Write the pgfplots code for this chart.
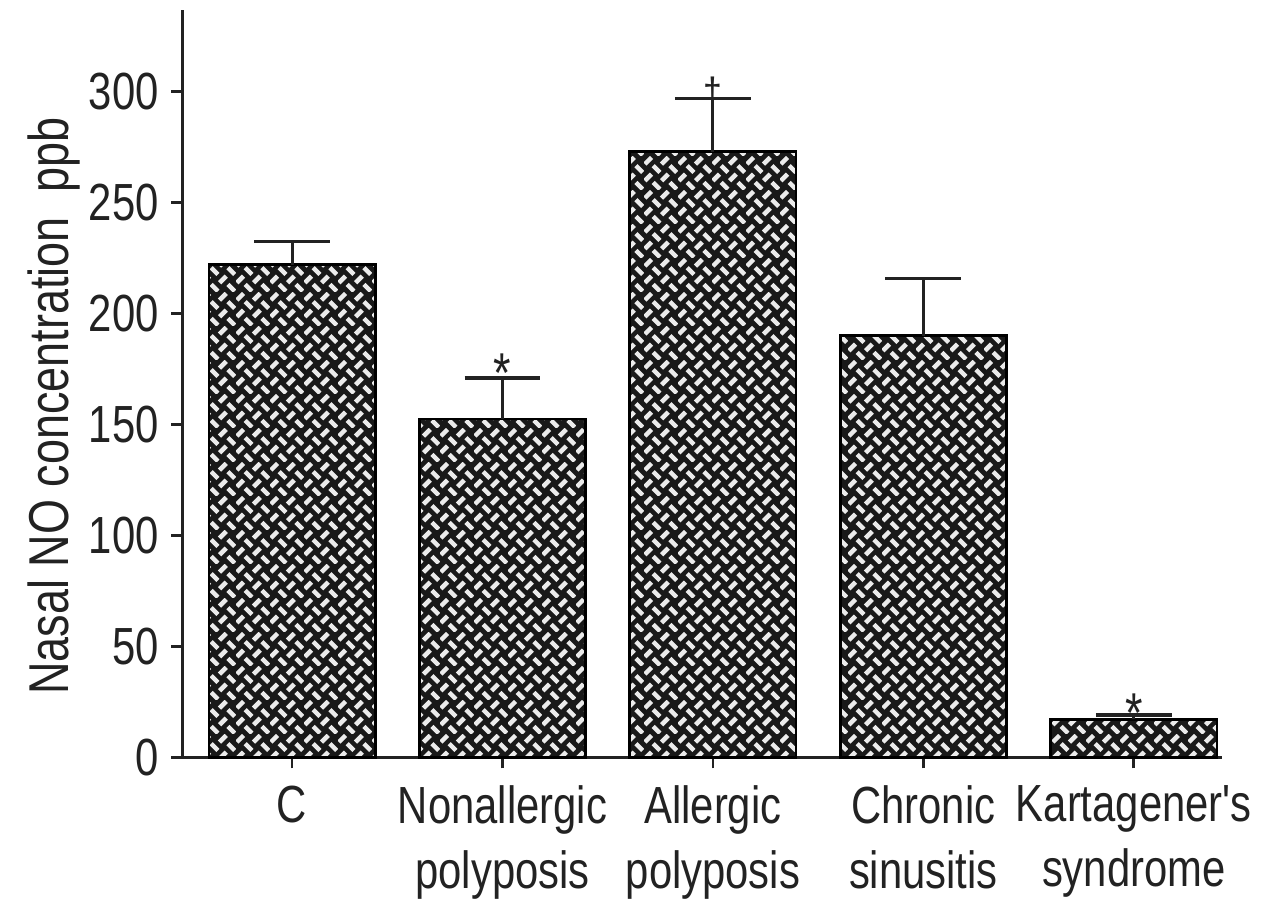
\documentclass[border=0pt]{standalone}
\usepackage{fontspec}
\setmainfont{Liberation Sans}[FakeStretch=0.8, Ligatures=TeXOff]
\usepackage{pgfplots}
\pgfplotsset{compat=1.18}
\usetikzlibrary{patterns}

% white basket-weave strokes, laid over a dark fill
\pgfdeclarepatternformonly{weave}{\pgfpointorigin}{\pgfqpoint{12pt}{12pt}}{\pgfqpoint{12pt}{12pt}}{
  \pgfsetlinewidth{1.6pt}
  \pgfsetbuttcap
  % "/" strokes
  \pgfpathmoveto{\pgfqpoint{0.3pt}{3.3pt}}\pgfpathlineto{\pgfqpoint{2.7pt}{5.7pt}}
  \pgfpathmoveto{\pgfqpoint{0.3pt}{9.3pt}}\pgfpathlineto{\pgfqpoint{2.7pt}{11.7pt}}
  \pgfpathmoveto{\pgfqpoint{6.3pt}{3.3pt}}\pgfpathlineto{\pgfqpoint{8.7pt}{5.7pt}}
  \pgfpathmoveto{\pgfqpoint{6.3pt}{9.3pt}}\pgfpathlineto{\pgfqpoint{8.7pt}{11.7pt}}
  % "\" strokes
  \pgfpathmoveto{\pgfqpoint{3.3pt}{2.7pt}}\pgfpathlineto{\pgfqpoint{5.7pt}{0.3pt}}
  \pgfpathmoveto{\pgfqpoint{3.3pt}{8.7pt}}\pgfpathlineto{\pgfqpoint{5.7pt}{6.3pt}}
  \pgfpathmoveto{\pgfqpoint{9.3pt}{2.7pt}}\pgfpathlineto{\pgfqpoint{11.7pt}{0.3pt}}
  \pgfpathmoveto{\pgfqpoint{9.3pt}{8.7pt}}\pgfpathlineto{\pgfqpoint{11.7pt}{6.3pt}}
  \pgfusepath{stroke}
}

\definecolor{ink}{HTML}{222222}

\pgfplotstableread{
x  y     e
0  222   10.7
1  152.5 18.5
2  273   24
3  190   26
4  17    2
}\nno

\begin{document}
\begin{tikzpicture}
\begin{axis}[
  name=ax,
  width=370pt, height=266pt, scale only axis,
  axis lines=left,
  axis line style={-, line width=1pt, ink},
  xmin=-0.52, xmax=4.42, ymin=0, ymax=337,
  xtick={0,1,2,3,4},
  xticklabels={C, Nonallergic\\[4pt]polyposis, Allergic\\[4pt]polyposis, Chronic\\[4pt]sinusitis, Kartagener's\\[4pt]syndrome},
  ytick={0,50,...,300},
  tick align=outside,
  major tick length=4pt,
  tick style={line width=1pt, ink},
  font=\fontsize{18.6}{19}\selectfont,
  every tick label/.append style={text=ink},
  xticklabel style={align=center, inner ysep=1pt, yshift=-5pt},
  yticklabel style={xshift=-1pt},
  /pgf/number format/assume math mode=true,
  ylabel={Nasal NO concentration\ \ ppb},
  ylabel style={text=ink, font=\fontsize{20}{20}\selectfont, inner sep=1pt, yshift=-1.5pt, at={(ticklabel cs:0.47)}},
  clip=false,
]
\addplot[ybar, bar width=0.79, draw=black, line width=1pt,
  fill=black!90, postaction={pattern=weave, pattern color=white!92!black}]
  table[x=x, y=y] {\nno};
\addplot[draw=none, mark=none, forget plot,
  error bars/.cd, y dir=plus, y explicit,
  error mark=|,
  error bar style={draw=ink, line width=1.1pt},
  error mark options={draw=ink, line width=1.1pt, mark size=13.5pt}]
  table[x=x, y=y, y error=e] {\nno};
\node[text=ink, font=\fontsize{20}{20}\selectfont] at (axis cs:1,173) {*};
\node[text=ink, font=\fontsize{15}{15}\selectfont] at (axis cs:2,299) {†};
\node[text=ink, font=\fontsize{20}{20}\selectfont] at (axis cs:4,20) {*};
\end{axis}
\path ([xshift=-65pt, yshift=3.5pt]ax.north west) rectangle (ax.south west);
\end{tikzpicture}
\end{document}
